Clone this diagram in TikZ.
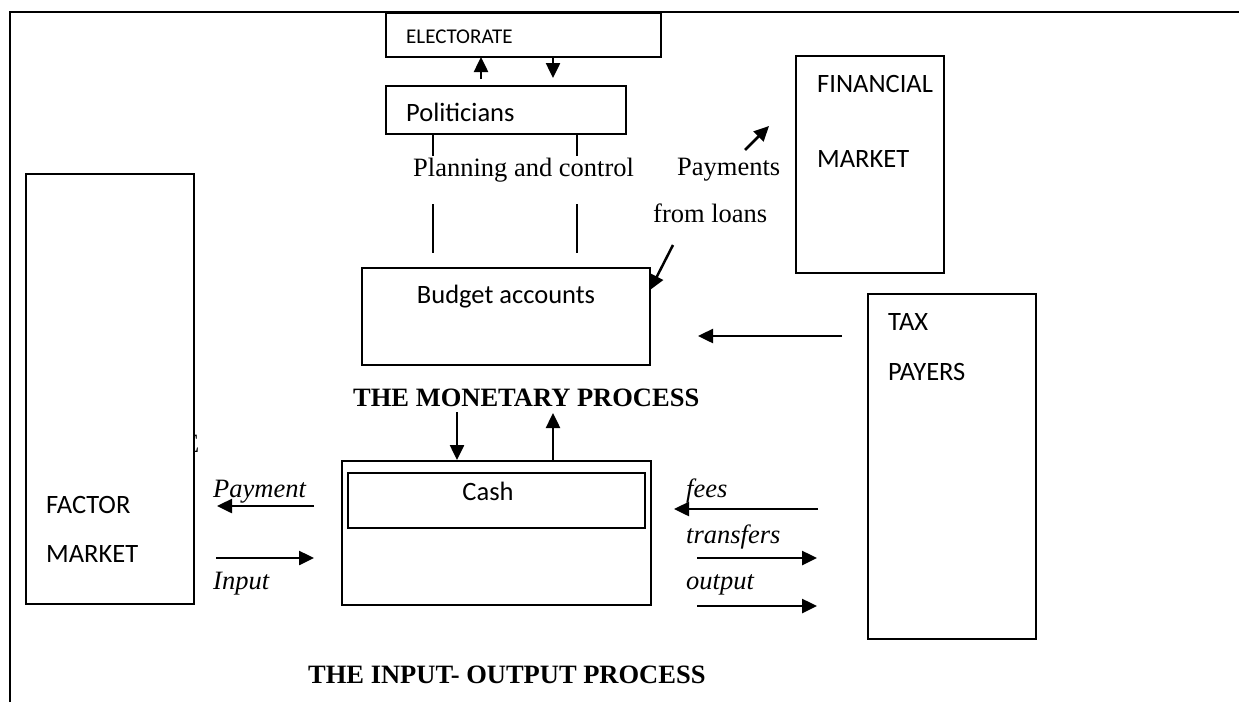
\documentclass[tikz,border=0pt]{standalone}
\usepackage{fontspec}
\setmainfont{Liberation Serif}
\newfontfamily\calibrifont{Carlito}
\usetikzlibrary{arrows.meta}
\begin{document}
\begin{tikzpicture}[x=1pt,y=-1pt,
  box/.style={draw,line width=1.8pt,fill=white,inner sep=0pt,anchor=north west},
  sans/.style={font=\calibrifont\fontsize{26.5}{30}\selectfont,inner sep=0pt},
  smallsans/.style={font=\calibrifont\fontsize{21}{24}\selectfont,inner sep=0pt},
  serif/.style={font=\fontsize{26.5}{30}\selectfont,inner sep=0pt},
  serifit/.style={font=\fontsize{26.5}{30}\selectfont\itshape,inner sep=0pt},
  title/.style={font=\fontsize{26.5}{30}\selectfont\bfseries,inner sep=0pt},
  arr/.style={line width=2.5pt,-{Triangle[length=15pt,width=14pt]}},
  thin/.style={line width=1.5pt}]
\useasboundingbox (0,0) rectangle (1239,702);

% page frame (top and left rules only)
\coordinate (frameBL) at (10,702);
\coordinate (frameTL) at (10,12);
\coordinate (frameTR) at (1239,12);
\draw[line width=2.8pt] (frameBL) -- (frameTL) -- (frameTR);

% stray letter partly hidden behind the factor market box
\node[serif,anchor=base west] (strayE) at (183,452) {E};

% boxes
\node[box,minimum width=275pt,minimum height=44pt] (elect) at (385,12) {};
\node[box,minimum width=240pt,minimum height=48pt] (polit) at (385,85) {};
\node[box,minimum width=288pt,minimum height=97pt] (budget) at (361,267) {};
\node[box,minimum width=148pt,minimum height=217pt] (fin) at (795,55) {};
\node[box,minimum width=168pt,minimum height=345pt] (tax) at (867,293) {};
\node[box,minimum width=168pt,minimum height=430pt] (factor) at (25,173) {};
\node[box,minimum width=309pt,minimum height=144pt] (cashouter) at (341,460) {};
\node[box,minimum width=297pt,minimum height=55pt] (cashinner) at (347,472) {};

% box labels
\node[smallsans,anchor=base west] (electT) at (406,43) {ELECTORATE};
\node[sans,anchor=base west] (politT) at (406,121) {Politicians};
\node[sans,anchor=base west] (finT1) at (817,92) {FINANCIAL};
\node[sans,anchor=base west] (finT2) at (817,167) {MARKET};
\node[sans,anchor=base] (budgetT) at (506,303) {Budget accounts};
\node[sans,anchor=base west] (taxT1) at (888,330) {TAX};
\node[sans,anchor=base west] (taxT2) at (888,380) {PAYERS};
\node[sans,anchor=base west] (factorT1) at (46,513) {FACTOR};
\node[sans,anchor=base west] (factorT2) at (46,562) {MARKET};
\node[sans,anchor=base] (cashT) at (488,500) {Cash};

% flow labels
\node[serif,anchor=base west] (planT) at (413,176) {Planning and control};
\node[serif,anchor=base west] (payT1) at (677,175) {Payments};
\node[serif,anchor=base west] (payT2) at (653,222) {from loans};
\node[title,anchor=base west] (monT) at (353,406) {THE MONETARY PROCESS};
\node[title,anchor=base west] (ioT) at (308,683) {THE INPUT- OUTPUT PROCESS};
\node[serifit,anchor=base west] (paymentT) at (213,497) {Payment};
\node[serifit,anchor=base west] (inputT) at (213,589) {Input};
\node[serifit,anchor=base west] (feesT) at (686,497) {fees};
\node[serifit,anchor=base west] (transT) at (686,543) {transfers};
\node[serifit,anchor=base west] (outT) at (686,589) {output};

% electorate <-> politicians
\coordinate (eUpS) at (481,79);  \coordinate (eUpE) at (481,57);
\coordinate (eDnS) at (553,57);  \coordinate (eDnE) at (553,78);
\draw[arr] (eUpS) -- (eUpE);
\draw[arr] (eDnS) -- (eDnE);

% planning and control links
\coordinate (pl1a) at (433,133); \coordinate (pl1b) at (433,156);
\coordinate (pl2a) at (577,133); \coordinate (pl2b) at (577,156);
\coordinate (pl3a) at (433,204); \coordinate (pl3b) at (433,253);
\coordinate (pl4a) at (577,204); \coordinate (pl4b) at (577,253);
\draw[thin] (pl1a) -- (pl1b);
\draw[thin] (pl2a) -- (pl2b);
\draw[thin] (pl3a) -- (pl3b);
\draw[thin] (pl4a) -- (pl4b);

% financial market flows
\coordinate (finS) at (745,150); \coordinate (finE) at (769,126);
\draw[arr] (finS) -- (finE);
\coordinate (loanS) at (673,245); \coordinate (loanE) at (650,290);
\draw[arr] (loanS) -- (loanE);

% tax payers to budget
\coordinate (taxS) at (842,336); \coordinate (taxE) at (698,336);
\draw[arr] (taxS) -- (taxE);

% monetary process <-> cash
\coordinate (cDnS) at (457,412); \coordinate (cDnE) at (457,460);
\coordinate (cUpS) at (553,460); \coordinate (cUpE) at (553,413);
\draw[arr] (cDnS) -- (cDnE);
\draw[arr] (cUpS) -- (cUpE);

% factor market flows
\coordinate (payS) at (314,506); \coordinate (payE) at (217,506);
\coordinate (inS) at (216,558);  \coordinate (inE) at (314,558);
\draw[arr] (payS) -- (payE);
\draw[arr] (inS) -- (inE);

% tax payer flows
\coordinate (feeS) at (818,509); \coordinate (feeE) at (674,509);
\coordinate (trS) at (697,558);  \coordinate (trE) at (817,558);
\coordinate (ouS) at (697,606);  \coordinate (ouE) at (817,606);
\draw[arr] (feeS) -- (feeE);
\draw[arr] (trS) -- (trE);
\draw[arr] (ouS) -- (ouE);
\end{tikzpicture}
\end{document}
